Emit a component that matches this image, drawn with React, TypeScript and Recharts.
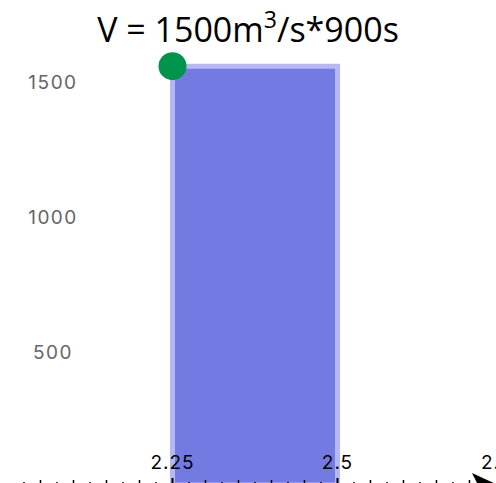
import {
  ComposedChart,
  XAxis,
  YAxis,
  Scatter,
  ReferenceArea,
} from "recharts";

// volume block: flow rate over a time window
const flowRate = 1500;
const tStart = 2.25;
const tEnd = 2.5;

const yTicks = [500, 1000, 1500];
const xMajor = [2.25, 2.5, 2.75];
const xMajorLabels = ["2.25", "2.5", "2.75"];
const xMinor = [
  2.025, 2.05, 2.075, 2.1, 2.125, 2.15, 2.175, 2.2, 2.225, 2.25, 2.275, 2.3,
  2.325, 2.35, 2.375, 2.4, 2.425, 2.45, 2.475, 2.5, 2.525, 2.55, 2.575, 2.6,
  2.625, 2.65, 2.675, 2.7, 2.725, 2.75,
];

const cornerPoint = [{ x: tStart, y: flowRate }];

function XTick(props: any) {
  const { x, y, payload } = props;
  const v = payload.value;
  const majorIdx = xMajor.findIndex((m) => Math.abs(m - v) < 1e-6);
  const half = majorIdx >= 0 ? 7 : Math.abs(Math.round(v * 20) - v * 20) < 1e-6 ? 5 : 3;
  return (
    <g>
      <line x1={x} x2={x} y1={y - half} y2={y + half} stroke="#000" strokeWidth={majorIdx >= 0 ? 2 : 1.5} />
      {majorIdx >= 0 && (
        <text
          x={x}
          y={y - 16}
          textAnchor="middle"
          fill="#000"
          fontSize={19}
          letterSpacing={1}
          fontFamily="Inter"
        >
          {xMajorLabels[majorIdx]}
        </text>
      )}
    </g>
  );
}

function YTick(props: any) {
  const { y, payload } = props;
  return (
    <text
      x={53}
      y={y + 23}
      textAnchor="middle"
      fill="#666"
      fontSize={19}
      letterSpacing={1.5}
      fontFamily="Inter"
    >
      {payload.value}
    </text>
  );
}

export default function App() {
  return (
    <div
      style={{
        position: "fixed",
        left: 0,
        top: 0,
        width: 496,
        height: 483,
        overflow: "hidden",
        background: "#fff",
      }}
    >
      <div
        style={{
          position: "absolute",
          left: 0,
          width: 496,
          top: 8,
          textAlign: "center",
          fontFamily: "'Open Sans'",
          fontSize: 34,
          lineHeight: "42px",
          color: "#000",
          zIndex: 2,
        }}
      >
        V = 1500m<sup style={{ fontSize: 23, verticalAlign: "top", lineHeight: "23px" }}>3</sup>/s*900s
      </div>
      <ComposedChart
        width={496}
        height={500}
        margin={{ top: 0, right: 0, bottom: 14, left: 0 }}
      >
        <defs>
          <marker
            id="axisArrow"
            viewBox="0 0 26 24"
            refX={24}
            refY={12}
            markerWidth={26}
            markerHeight={24}
            markerUnits="userSpaceOnUse"
            orient="auto"
          >
            <path d="M0,0 L26,12 L0,24 L6,12 Z" fill="#000" />
          </marker>
        </defs>
        <XAxis
          type="number"
          dataKey="x"
          domain={[1.99015, 2.7402]}
          allowDataOverflow
          ticks={xMinor}
          interval={0}
          height={1}
          tickSize={0}
          tickMargin={0}
          tickLine={false}
          axisLine={{ stroke: "#000", strokeWidth: 1, markerEnd: "url(#axisArrow)" }}
          tick={XTick}
        />
        <YAxis
          type="number"
          dataKey="y"
          domain={[-50, 1745]}
          allowDataOverflow
          ticks={yTicks}
          width={1}
          axisLine={false}
          tickLine={false}
          tick={YTick}
        />
        <ReferenceArea
          x1={tStart}
          x2={tEnd}
          y1={-50}
          y2={flowRate}
          fill="#737AE2"
          fillOpacity={1}
          stroke="#B6B9F1"
          strokeWidth={5}
        />
        <Scatter
          data={cornerPoint}
          isAnimationActive={false}
          shape={(p: any) => <circle cx={p.cx} cy={p.cy} r={14} fill="#00934B" />}
        />
      </ComposedChart>
    </div>
  );
}
